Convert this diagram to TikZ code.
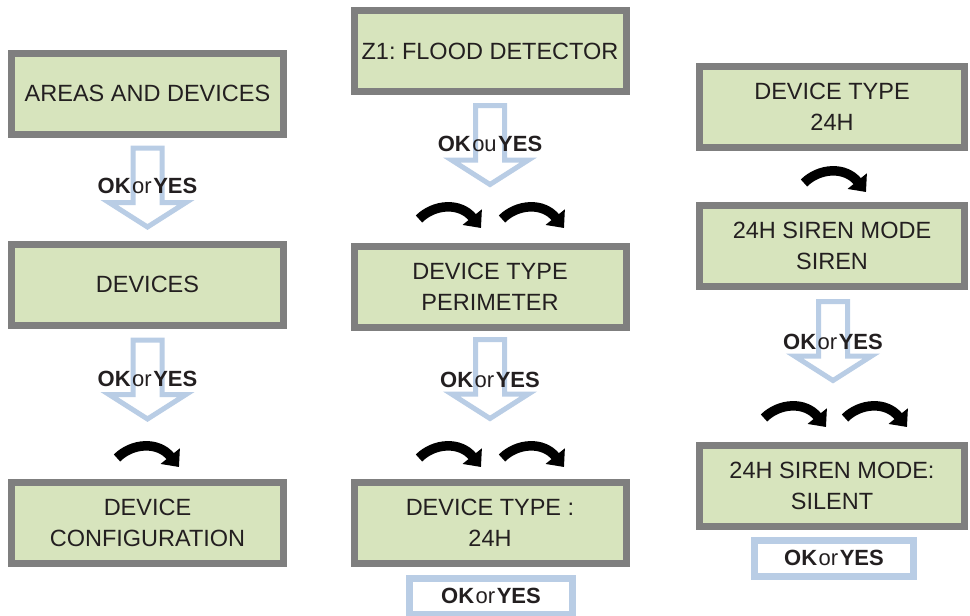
\documentclass[tikz,border=0pt]{standalone}
\usepackage{fontspec}
\setmainfont{Liberation Sans}
\frenchspacing
\definecolor{LcdGreen} {RGB}{215,228,189}
\definecolor{FrameGrey}{RGB}{127,127,127}
\definecolor{KeyBlue}  {RGB}{185,205,229}
\definecolor{TextDark} {RGB}{35,31,32}
\usetikzlibrary{arrows.meta,calc}
\newcommand{\okword}[1]{\textbf{OK}\hspace{1.5pt}#1\hspace{1.5pt}\textbf{YES}}

\begin{document}
\begin{tikzpicture}[x=1pt,y=1pt,
    screen/.style={draw=FrameGrey,fill=LcdGreen,line width=7pt,
      minimum width=272pt,minimum height=81pt,align=center,
      text=TextDark,font=\fontsize{23.5}{31}\selectfont},
    keybox/.style={draw=KeyBlue,fill=white,line width=7pt,
      minimum width=163pt,minimum height=36pt,
      text=TextDark,font=\fontsize{22}{24}\selectfont},
    keylabel/.style={text=TextDark,font=\fontsize{22}{24}\selectfont,inner sep=0pt},
    pressdown/.pic={\draw[KeyBlue,fill=white,line width=5pt,line join=miter]
      (-14.5,41) -- (14.5,41) -- (14.5,-13.5) -- (38.5,-13.5) -- (0,-38)
      -- (-38.5,-13.5) -- (-14.5,-13.5) -- cycle;},
    nextkey/.pic={\draw[line width=9.5pt,-{Triangle[length=14pt,width=24pt]}]
      (-31,-3) .. controls (-16,12) and (10,14) .. (31,-12);}]
  \useasboundingbox (0,0) rectangle (970,-616);
  %% Left column
  \node[screen] (areas)   at (147.5,-93.5)  {AREAS AND DEVICES};
  \node[screen] (devices) at (147.5,-284.5) {DEVICES};
  \node[screen] (devconf) at (147.5,-522.5) {DEVICE\\CONFIGURATION};
  \coordinate (k1) at ($(areas.south)!0.5!(devices.north)$);
  \pic at (k1) {pressdown};
  \node[keylabel] (ok1) at ([yshift=3pt]k1) {\okword{or}};
  \coordinate (k2) at ([yshift=-52.5pt]devices.south);
  \pic at (k2) {pressdown};
  \node[keylabel] (ok2) at ([yshift=2pt]k2) {\okword{or}};
  \pic at (148,-455) {nextkey};
  %% Middle column
  \node[screen] (flood)  at (490,-51)    {Z1: FLOOD DETECTOR};
  \node[screen] (perim)  at (490,-286.5) {DEVICE TYPE\\PERIMETER};
  \node[screen] (type24) at (490,-522.5) {DEVICE TYPE :\\24H};
  \coordinate (k3) at (490,-146.5);
  \pic at (k3) {pressdown};
  \node[keylabel] (ok3) at ([yshift=3pt]k3) {\okword{ou}};
  \foreach \x in {450,533}{
    \pic at (\x,-216) {nextkey};
  }
  \coordinate (k4) at ([yshift=-50pt]perim.south);
  \pic at (k4) {pressdown};
  \node[keylabel] (ok4) at ([yshift=1pt]k4) {\okword{or}};
  \foreach \x in {450,533}{
    \pic at (\x,-455) {nextkey};
  }
  \node[keybox] (okmid) at (491,-596) {\okword{or}};
  %% Right column
  \node[screen,minimum width=265pt] (rtype)  at (832,-107)   {DEVICE TYPE\\24H};
  \node[screen,minimum width=265pt] (siren)  at (832,-245.5) {24H SIREN MODE\\SIREN};
  \node[screen,minimum width=265pt] (silent) at (832,-485.5) {24H SIREN MODE:\\SILENT};
  \pic at (835,-180) {nextkey};
  \coordinate (k5) at (833,-342.5);
  \pic at (k5) {pressdown};
  \node[keylabel] (ok5) at ([yshift=1pt]k5) {\okword{or}};
  \foreach \x in {795,876}{
    \pic at (\x,-415) {nextkey};
  }
  \node[keybox,minimum width=159pt] (okright) at (834,-558) {\okword{or}};
\end{tikzpicture}
\end{document}
